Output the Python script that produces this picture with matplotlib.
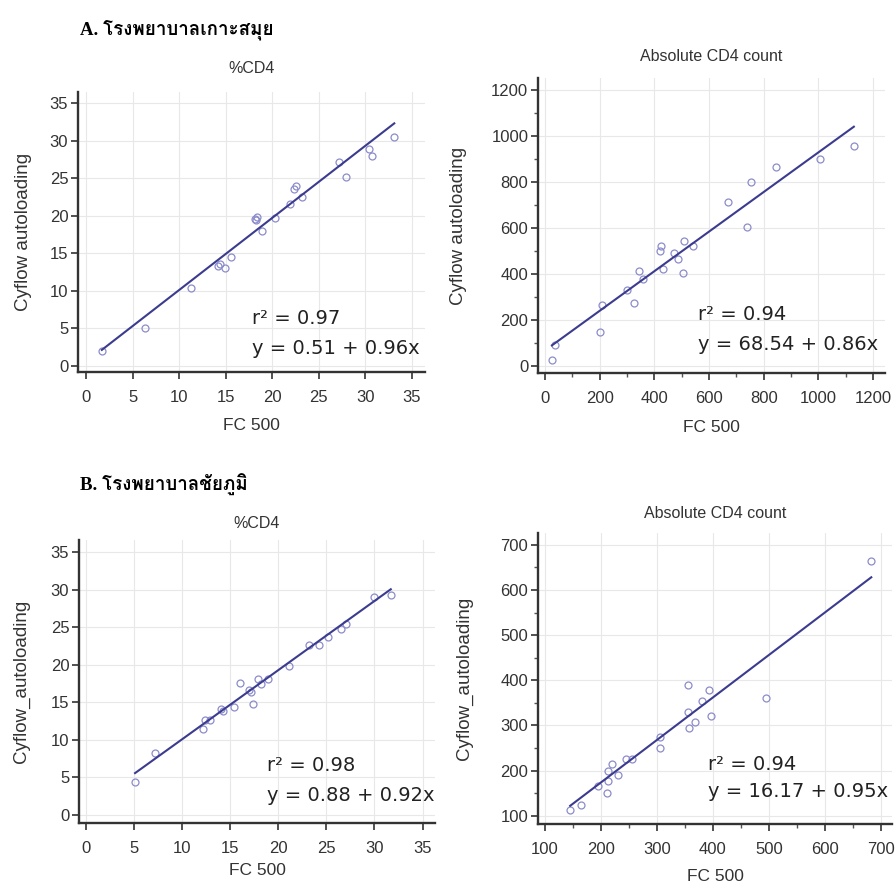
import matplotlib
matplotlib.use("Agg")
from matplotlib import pyplot as plt
from matplotlib import font_manager
from matplotlib.ft2font import FT2Font
from matplotlib.ticker import MultipleLocator, NullLocator
import numpy as np

# --- data ---
a_pct_x = [1.7, 6.3, 11.3, 14.2, 14.4, 14.9, 15.6, 18.1, 18.2, 18.4, 18.9, 20.3,
           21.9, 22.3, 22.5, 23.2, 27.2, 27.9, 30.4, 30.7, 33.1]
a_pct_y = [2.0, 5.1, 10.4, 13.3, 13.6, 13.0, 14.5, 19.6, 19.4, 19.8, 17.9, 19.7,
           21.6, 23.5, 24.0, 22.5, 27.2, 25.1, 28.9, 27.9, 30.5]
a_abs_x = [25, 35, 200, 210, 300, 325, 345, 360, 420, 425, 430, 470, 485, 505,
           510, 540, 670, 740, 755, 845, 1005, 1130]
a_abs_y = [28, 90, 150, 265, 330, 275, 415, 380, 500, 520, 420, 490, 465, 405,
           545, 520, 715, 605, 800, 865, 900, 955]
b_pct_x = [5.1, 7.2, 12.2, 12.4, 12.9, 14.0, 14.3, 15.4, 16.0, 17.0, 17.2, 17.4,
           17.9, 18.2, 18.9, 21.1, 23.2, 24.2, 25.2, 26.5, 27.0, 30.0, 31.7]
b_pct_y = [4.4, 8.3, 11.5, 12.6, 12.7, 14.1, 13.9, 14.4, 17.6, 16.7, 16.4, 14.8,
           18.1, 17.4, 18.1, 19.8, 22.6, 22.6, 23.7, 24.8, 25.4, 29.0, 29.3]
b_abs_x = [145, 165, 195, 210, 212, 213, 220, 230, 245, 255, 305, 305, 355, 355,
           358, 368, 380, 393, 397, 495, 683]
b_abs_y = [113, 125, 165, 150, 200, 178, 215, 190, 225, 225, 275, 250, 390, 330,
           295, 308, 355, 378, 322, 360, 665]

# fitted line (intercept, slope) as drawn
a_pct_fit = (0.51, 0.96)
a_abs_fit = (68.54, 0.86)
b_pct_fit = (0.88, 0.92)
b_abs_fit = (-14.0, 0.94)

r2_text = ["r\u00b2 = 0.97", "r\u00b2 = 0.94", "r\u00b2 = 0.98", "r\u00b2 = 0.94"]
eq_text = ["y = 0.51 + 0.96x", "y = 68.54 + 0.86x", "y = 0.88 + 0.92x", "y = 16.17 + 0.95x"]
titles = ["%CD4", "Absolute CD4 count", "%CD4", "Absolute CD4 count"]
ylabels = ["Cyflow autoloading", "Cyflow autoloading", "Cyflow_autoloading", "Cyflow_autoloading"]
heading_a = "A. โรงพยาบาลเกาะสมุย"
heading_b = "B. โรงพยาบาลชัยภูมิ"


def find_thai_font():
    for f in font_manager.fontManager.ttflist:
        try:
            if 0x0E42 in FT2Font(f.fname).get_charmap():
                return f.name
        except Exception:
            pass
    return None


thai = find_thai_font()
head_family = ["Liberation Serif"] + ([thai] if thai else []) + ["DejaVu Serif"]

plt.rcParams['font.family'] = ['Liberation Sans', 'DejaVu Sans']

fig = plt.figure(figsize=(8.96, 8.88), dpi=100)

W, H = 896.0, 888.0
# left, top, right, bottom in pixels
boxes = [(78, 92, 425, 372), (538, 78, 885, 373), (79, 540, 435, 823), (538, 533, 892, 824)]
limits = [((-0.86, 36.4), (-0.8, 36.46)), ((-26, 1244), (-30, 1252)),
          ((-0.73, 36.3), (-1.07, 36.6)), ((87.5, 720), (82, 726))]
ticks = [5, 200, 5, 100]
minors = [None, 100, None, 50]
title_pads = [14, 12, 9, 11]
xlabel_top = [418, 420, 863, 869]
ylabel_right = [32, 467, 30, 473]
text_pos = [(0.50, 0.192, 0.083), (0.461, 0.197, 0.095),
            (0.528, 0.202, 0.096), (0.48, 0.205, 0.11)]
xs = [a_pct_x, a_abs_x, b_pct_x, b_abs_x]
ys = [a_pct_y, a_abs_y, b_pct_y, b_abs_y]
fits = [a_pct_fit, a_abs_fit, b_pct_fit, b_abs_fit]

for i in range(4):
    l, t, r, b = boxes[i]
    ax = fig.add_axes([l / W, 1 - b / H, (r - l) / W, (b - t) / H])
    ax.set_xlim(*limits[i][0])
    ax.set_ylim(*limits[i][1])
    ax.xaxis.set_major_locator(MultipleLocator(ticks[i]))
    ax.yaxis.set_major_locator(MultipleLocator(ticks[i]))
    if minors[i]:
        ax.xaxis.set_minor_locator(MultipleLocator(minors[i]))
        ax.yaxis.set_minor_locator(MultipleLocator(minors[i]))
    else:
        ax.xaxis.set_minor_locator(NullLocator())
        ax.yaxis.set_minor_locator(NullLocator())
    ax.grid(True, which='major', color='#e8e8e8', linewidth=0.8)
    ax.set_axisbelow(True)
    for s in ['top', 'right']:
        ax.spines[s].set_visible(False)
    for s in ['left', 'bottom']:
        ax.spines[s].set_color('#333333')
        ax.spines[s].set_linewidth(1.7)
    ax.tick_params(which='major', length=5, width=1.2, color='#333333',
                   labelsize=12, labelcolor='#333333')
    ax.tick_params(axis='x', which='major', pad=8)
    ax.tick_params(axis='y', which='major', pad=2)
    ax.tick_params(which='minor', length=3, width=1.0, color='#555555')

    x = np.array(xs[i])
    y = np.array(ys[i])
    ax.plot(x, y, 'o', markersize=5, markerfacecolor='none',
            markeredgecolor='#8c8ccc', markeredgewidth=0.9)
    a0, a1 = fits[i]
    lx = np.array([x.min(), x.max()])
    ax.plot(lx, a0 + a1 * lx, color='#3b3b8f', linewidth=1.5)

    ax.set_title(titles[i], fontsize=11.5, color='#333333', pad=title_pads[i])
    ax.set_xlabel("FC 500", fontsize=12.5, color='#333333')
    ax.set_ylabel(ylabels[i], fontsize=13.5, color='#333333')
    ax.xaxis.set_label_coords(0.5, (b - xlabel_top[i]) / (b - t))
    ax.yaxis.set_label_coords((ylabel_right[i] - l) / (r - l), 0.5)

    tx, ty1, ty2 = text_pos[i]
    ax.text(tx, ty1, r2_text[i], transform=ax.transAxes, fontsize=14,
            family=['DejaVu Sans'], va='center', ha='left', color='#222222')
    ax.text(tx, ty2, eq_text[i], transform=ax.transAxes, fontsize=14,
            family=['DejaVu Sans'], va='center', ha='left', color='#222222')

fig.text(80 / W, 1 - 30 / H, heading_a, family=head_family, fontsize=13.5,
         fontweight='bold', va='center', ha='left')
fig.text(80 / W, 1 - 485 / H, heading_b, family=head_family, fontsize=13.5,
         fontweight='bold', va='center', ha='left')

fig.savefig("out.png", dpi=100, facecolor='white')
